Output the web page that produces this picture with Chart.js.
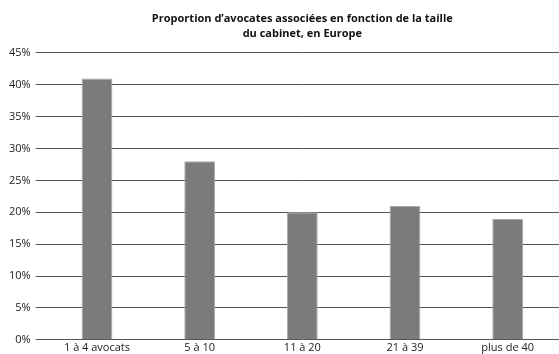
<!DOCTYPE html>
<html>
<head>
<meta charset="utf-8">
<script src="https://cdn.jsdelivr.net/npm/chart.js@4"></script>
<style>
  html, body { margin: 0; padding: 0; background: #fff; }
  #wrap { width: 559px; height: 354px; }
</style>
</head>
<body>
<div id="wrap"><canvas id="chart" width="559" height="354"></canvas></div>
<script>
const categories = ['1 à 4 avocats', '5 à 10', '11 à 20', '21 à 39', 'plus de 40'];
const values = [41, 28, 20, 21, 19];
const titleLines = ['Proportion d\u2019avocates associées en fonction de la taille', 'du cabinet, en Europe'];

const fontFamily = '"Open Sans", "Lato", sans-serif';

new Chart(document.getElementById('chart'), {
    type: 'bar',
    data: {
        labels: categories,
        datasets: [{
            data: values,
            backgroundColor: '#7b7b7b',
            borderColor: '#a8a8a8',
            borderWidth: { top: 1, left: 1, right: 1, bottom: 0 },
            barPercentage: 0.3,
            categoryPercentage: 1
        }]
    },
    options: {
        responsive: false,
        animation: false,
        layout: { padding: { left: 4, right: 0, top: 0, bottom: -1 } },
        plugins: {
            legend: { display: false },
            tooltip: { enabled: false },
            title: {
                display: true,
                fullSize: false,
                text: titleLines,
                color: '#111',
                font: { family: fontFamily, size: 11, weight: 'bold', lineHeight: 1.36 },
                padding: { top: 11, bottom: 12 }
            }
        },
        scales: {
            x: {
                grid: { display: false, drawTicks: false },
                border: { display: false },
                ticks: { color: '#222', font: { family: fontFamily, size: 11 }, padding: 1, maxRotation: 0 }
            },
            y: {
                min: 0,
                max: 45,
                ticks: {
                    stepSize: 5,
                    color: '#222',
                    padding: 5,
                    font: { family: fontFamily, size: 11 },
                    callback: v => v + '%'
                },
                grid: { color: '#555', lineWidth: 1, tickLength: 10, drawTicks: true },
                border: { display: false }
            }
        }
    }
});
</script>
</body>
</html>
